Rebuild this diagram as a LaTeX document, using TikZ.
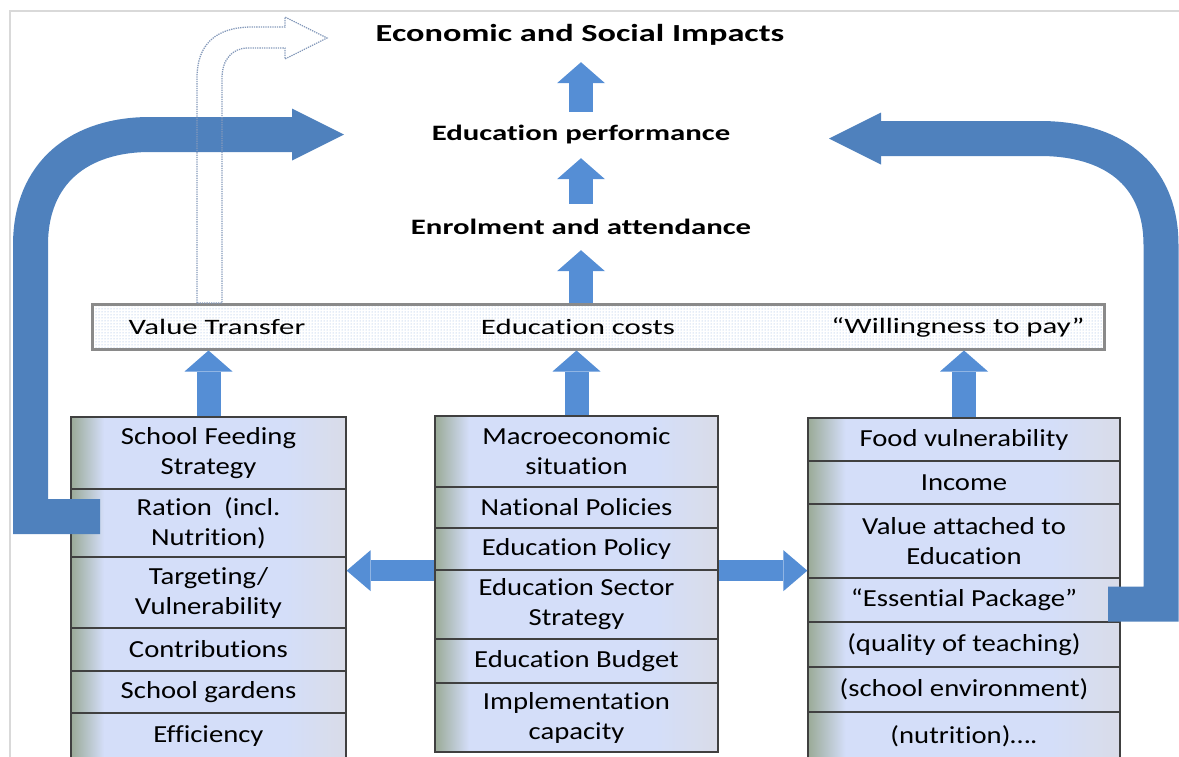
\documentclass[tikz,border=0pt]{standalone}
\usepackage{fontspec}
\setmainfont{Carlito}[Ligatures=NoCommon]
\newfontfamily\cellfont{Carlito}[FakeStretch=1.17, Ligatures=NoCommon]
\newfontfamily\widefont{Carlito}[FakeStretch=1.4, Ligatures=NoCommon]
\usepackage{tikz}
\usetikzlibrary{arrows.meta, patterns}

\definecolor{arrowblue}{HTML}{558ED5}
\definecolor{loopblue}{HTML}{4F81BD}
\definecolor{cellgreen}{HTML}{9AAA97}
\definecolor{cellblue}{HTML}{D4DEF9}
\definecolor{cellgray}{HTML}{D9DCE8}
\definecolor{cellline}{HTML}{404040}
\definecolor{barline}{HTML}{8A8A8A}
\definecolor{bardots}{HTML}{8FB0E0}
\definecolor{ghostline}{HTML}{8499BA}
\definecolor{framegray}{HTML}{D9D9D9}

% green edge on the left, grey tint on the right
\pgfdeclarehorizontalshading{cellfill}{100bp}{color(0bp)=(cellgreen); color(25bp)=(cellgreen);
  color(31bp)=(cellblue); color(64bp)=(cellblue); color(75bp)=(cellgray); color(100bp)=(cellgray)}

\tikzset{
  cell/.style={draw=cellline, line width=1.3pt, shading=cellfill, inner sep=0pt, align=center,
               font=\cellfont\fontsize{24.5}{30}\selectfont},
  feedcell/.style={cell, minimum width=275pt, minimum height=#1},
  macrocell/.style={cell, minimum width=283pt, minimum height=#1},
  homecell/.style={cell, minimum width=312pt, minimum height=#1},
  head/.style={inner sep=0pt, minimum height=46pt, font=\widefont\bfseries\fontsize{22}{26}\selectfont},
  bartext/.style={inner sep=0pt, font=\widefont\fontsize{22}{26}\selectfont},
  uparrow/.style={color=arrowblue, line width=24pt, -{Triangle[width=48pt, length=21pt, line width=0pt]}},
  sidearrow/.style={color=arrowblue, line width=21pt, -{Triangle[width=41pt, length=24pt, line width=0pt]}},
  bigloop/.style={color=loopblue, line width=35pt, -{Triangle[width=52pt, length=52pt, line width=0pt]}},
  ghost/.style={draw=ghostline, densely dotted, line width=1.3pt}
}

\begin{document}
\begin{tikzpicture}[x=1pt, y=-1pt]
  \useasboundingbox (0,0) rectangle (1179,756);
  \draw[framegray, line width=2pt] (10,760) -- (10,11) -- (1185,11);

  % outcomes
  \node[head, minimum height=54pt, font=\widefont\bfseries\fontsize{24.5}{28}\selectfont] (impact) at (580,35) {Economic and Social Impacts};
  \node[head] (perf) at (581,135) {Education performance};
  \node[head] (enrol) at (581,227) {Enrolment and attendance};

  % cost bar
  \node[draw=barline, line width=3pt, preaction={fill=white}, pattern=dots, pattern color=bardots,
        minimum width=1012pt, minimum height=45pt, inner sep=0pt] (bar) at (598,326.5) {};
  \node[bartext] (transfer) at (217,327) {Value Transfer};
  \node[bartext] (costs) at (578,327) {Education costs};
  \node[bartext] (willing) at (958,327) {“Willingness to pay”};

  % school feeding column
  \node[feedcell=72pt] (feed1) at (208.5,453) {School Feeding\\Strategy};
  \node[feedcell=68pt] (feed2) at (208.5,523) {Ration\enspace(incl.\\Nutrition)};
  \node[feedcell=71pt] (feed3) at (208.5,592.5) {Targeting/\\Vulnerability};
  \node[feedcell=43pt] (feed4) at (208.5,649.5) {Contributions};
  \node[feedcell=42pt] (feed5) at (208.5,692) {School gardens};
  \node[feedcell=47pt] (feed6) at (208.5,736.5) {Efficiency};

  % policy column
  \node[macrocell=71pt] (macro1) at (576.5,451.5) {Macroeconomic\\situation};
  \node[macrocell=41pt] (macro2) at (576.5,507.5) {National Policies};
  \node[macrocell=42pt] (macro3) at (576.5,549) {Education Policy};
  \node[macrocell=69pt] (macro4) at (576.5,604.5) {Education Sector\\Strategy};
  \node[macrocell=44pt] (macro5) at (576.5,661) {Education Budget};
  \node[macrocell=69pt] (macro6) at (576.5,717.5) {Implementation\\capacity};

  % household column
  \node[homecell=43pt] (home1) at (964,439.5) {Food vulnerability};
  \node[homecell=43pt] (home2) at (964,482.5) {Income};
  \node[homecell=74pt] (home3) at (964,541) {Value attached to\\Education};
  \node[homecell=44pt] (home4) at (964,600) {“Essential Package”};
  \node[homecell=45pt] (home5) at (964,644.5) {(quality of teaching)};
  \node[homecell=45pt] (home6) at (964,689.5) {(school environment)};
  \node[homecell=48pt] (home7) at (964,736) {(nutrition)….};

  % arrows up the middle
  \draw[uparrow] (perf.north) -- (impact.south -| perf.north);
  \draw[uparrow] (enrol.north) -- (perf.south);
  \draw[uparrow] (bar.north -| enrol.south) -- (enrol.south);
  \draw[uparrow] (feed1.north) -- (feed1.north |- bar.south);
  \draw[uparrow] (macro1.north) -- (macro1.north |- bar.south);
  \draw[uparrow] (home1.north) -- (home1.north |- bar.south);
  \draw[sidearrow] (macro3.south west) -- (macro3.south west -| feed3.east);
  \draw[sidearrow] (macro3.south east) -- (macro3.south east -| home1.west);

  % feedback loops
  \coordinate (loopL) at (100,516.5);
  \coordinate (loopLtip) at (344,134.5);
  \coordinate (loopR) at (1108,604);
  \coordinate (loopRtip) at (829,138.5);
  \draw[bigloop] (loopL) -- (30.5,516.5) -- (30.5,245) .. controls (30.5,172) and (80,134.5) .. (150,134.5) -- (loopLtip);
  \draw[bigloop] (loopR) -- (1161,604) -- (1161,245) .. controls (1161,172) and (1110,138.5) .. (1040,138.5) -- (loopRtip);

  % value transfer outline arrow
  \draw[ghost] (197,303) -- (197,78) .. controls (197,45) and (215,27) .. (252,27) -- (285,27) -- (285,17)
    -- (327,38) -- (285,59) -- (285,48) -- (248,48) .. controls (232,48) and (222,60) .. (222,78) -- (222,303) -- cycle;
\end{tikzpicture}
\end{document}
